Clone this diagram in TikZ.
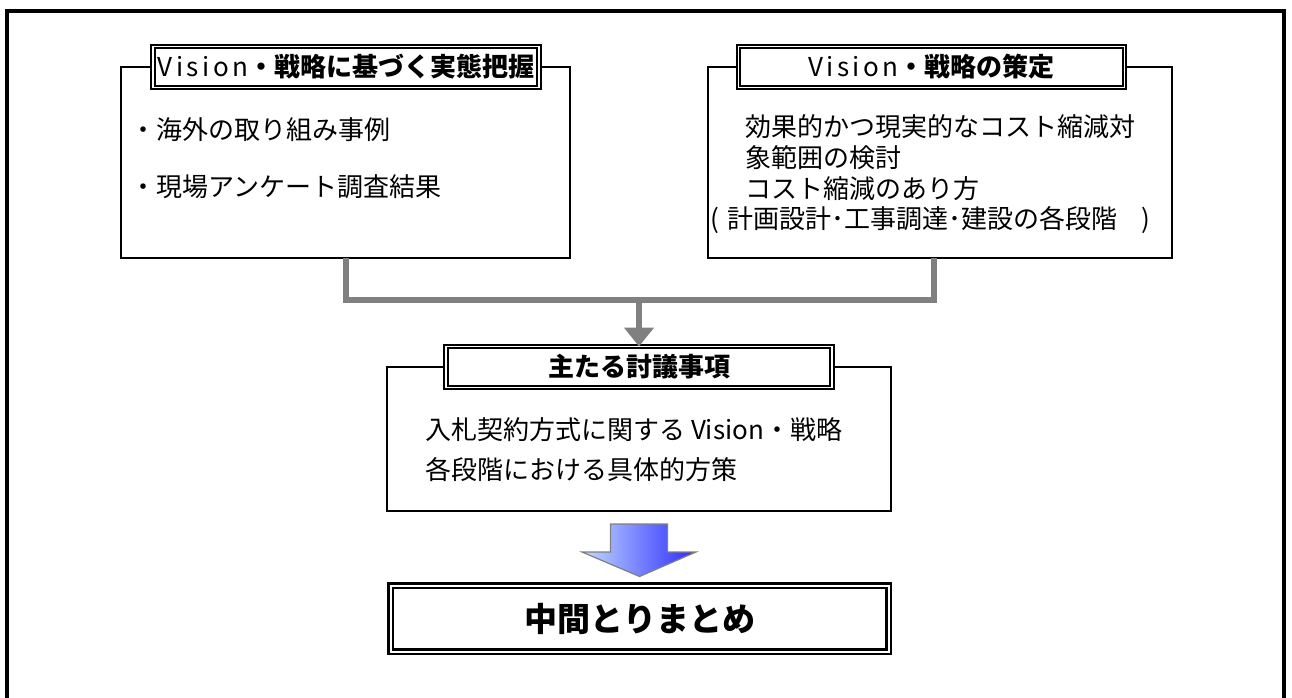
\documentclass[tikz,border=0pt]{standalone}
\usepackage{fontspec}
\setmainfont{Noto Sans CJK JP}
\usetikzlibrary{arrows.meta,calc}
\definecolor{conngray}{HTML}{808080}
\definecolor{lightblue}{HTML}{C4DAFF}
\definecolor{deepblue}{HTML}{2A2AFF}
\newcommand\spV{V\kern3.5pt i\kern3.5pt s\kern3.5pt i\kern3.5pt o\kern3.5pt n}
\begin{document}
\begin{tikzpicture}[x=1pt,y=-1pt,
  bodybox/.style={draw, line width=1.6pt, inner sep=0pt, outer sep=0pt},
  titlebox/.style={draw, double, line width=1.8pt, double distance=1.6pt, fill=white,
    inner sep=0pt, outer sep=0pt, minimum width=386pt, minimum height=41pt,
    font=\fontsize{26pt}{30pt}\selectfont},
  finalbox/.style={draw, double, line width=2.2pt, double distance=2pt, fill=white,
    inner sep=0pt, outer sep=0pt, minimum width=498pt, minimum height=66pt,
    font=\fontsize{33pt}{38pt}\selectfont\bfseries},
  bodytext/.style={anchor=west, inner sep=0pt, font=\fontsize{26pt}{30pt}\selectfont},
  conn/.style={draw=conngray, line width=6pt}]
\useasboundingbox (0,0) rectangle (1292,697);
\clip (0,0) rectangle (1292,697);
\draw[line width=3.5pt] (7,740) -- (7,11) -- (1284,11) -- (1284,740);

% left group
\node[bodybox, minimum width=449pt, minimum height=191pt] (lb) at (345.5,162.5) {};
\node[titlebox] (lt) at (346,67) {\spV\textbf{・戦略に基づく実態把握}};
\node[bodytext] (l1) at (130,130) {・海外の取り組み事例};
\node[bodytext] (l2) at (130,187) {・現場アンケート調査結果};

% right group
\node[bodybox, minimum width=464pt, minimum height=191pt] (rb) at (940,162.5) {};
\node[titlebox] (rt) at (931.5,67) {\spV\textbf{・戦略の策定}};
\node[bodytext] (r1) at (745,127) {効果的かつ現実的なコスト縮減対};
\node[bodytext] (r2) at (745,158) {象範囲の検討};
\node[bodytext] (r3) at (745,189) {コスト縮減のあり方};
\node[bodytext] (r4) at (710,220) {(\hspace{9pt}計画設計･工事調達･建設の各段階\hspace{24pt})};

% middle group
\node[bodybox, minimum width=504pt, minimum height=144pt] (mb) at (639,439) {};
\node[titlebox] (mt) at (639,367) {\textbf{主たる討議事項}};
\node[bodytext] (m1) at (425,430) {入札契約方式に関する Vision・戦略};
\node[bodytext] (m2) at (425,470) {各段階における具体的方策};

% connectors
\coordinate (jn) at (639,300);
\draw[conn] (lb.south) |- (jn) -| ([xshift=-6pt]rb.south);
\draw[conn, -{Triangle[width=29pt,length=19pt]}] (jn) -- (mt.north);

% final box
\node[finalbox] (fb) at (639.5,618.5) {中間とりまとめ};

% block arrow
\shade[left color=lightblue, right color=deepblue, draw=conngray, line width=1.2pt]
  ($(mb.south)+(-28.5,13)$) -- ($(mb.south)+(28.5,13)$) -- ($(mb.south)+(28.5,41)$)
  -- ($(mb.south)+(57,41)$) -- ($(fb.north)+(0,-9)$) -- ($(mb.south)+(-57,41)$)
  -- ($(mb.south)+(-28.5,41)$) -- cycle;
\end{tikzpicture}
\end{document}
